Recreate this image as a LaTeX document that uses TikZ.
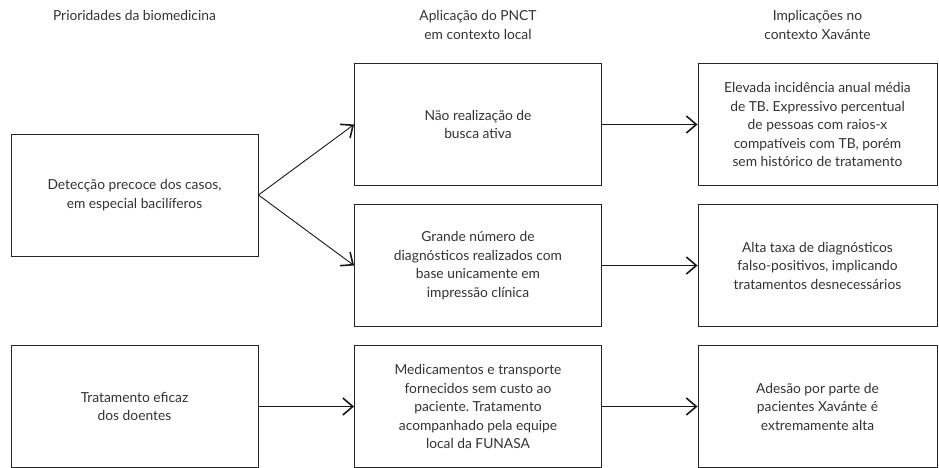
\documentclass[tikz,border=0pt]{standalone}
\usepackage{fontspec}
\setmainfont{Lato}
\usetikzlibrary{arrows.meta}
\frenchspacing

\tikzset{
  caixa/.style={draw=black!85, line width=0.9pt, align=center, inner sep=0pt,
    minimum width=247pt, minimum height=122pt, text=black!80,
    font=\fontsize{13.8}{18.5}\selectfont},
  titulo/.style={anchor=north, align=center, inner sep=0pt, text=black!80,
    font=\fontsize{13.8}{19.5}\selectfont},
  seta/.style={draw=black!90, line width=0.9pt,
    -{Straight Barb[length=10pt,width=17pt,line width=1.6pt]}}
}

\begin{document}
\begin{tikzpicture}[x=1pt,y=-1pt]
            \useasboundingbox (0,0) rectangle (939,468);
            % titulos das colunas
            \node[titulo] (t1) at (134.5,10) {Prioridades da biomedicina};
            \node[titulo] (t2) at (478,10) {Aplicação do PNCT\\em contexto local};
            \node[titulo] (t3) at (817.5,10) {Implicações no\\contexto Xavánte};
            % primeira coluna
            \node[caixa] (det) at (134.5,195) {Detecção precoce dos casos,\\em especial bacilíferos};
            \node[caixa] (trat) at (134.5,406.5) {Tratamento eficaz\\dos doentes};
            % segunda coluna
            \node[caixa] (nao) at (478,124.5) {Não realização de\\busca ativa};
            \node[caixa] (grande) at (478,265.5) {Grande número de\\diagnósticos realizados com\\base unicamente em\\impressão clínica};
            \node[caixa] (med) at (478,406.5) {Medicamentos e transporte\\fornecidos sem custo ao\\paciente. Tratamento\\acompanhado pela equipe\\local da FUNASA};
            % terceira coluna
            \node[caixa,minimum width=239pt] (elev) at (817.5,124.5) {Elevada incidência anual média\\de TB. Expressivo percentual\\de pessoas com raios-x\\compatíveis com TB, porém\\sem histórico de tratamento};
            \node[caixa,minimum width=239pt] (alta) at (817.5,265.5) {Alta taxa de diagnósticos\\falso-positivos, implicando\\tratamentos desnecessários};
            \node[caixa,minimum width=239pt] (ades) at (817.5,406.5) {Adesão por parte de\\pacientes Xavánte é\\extremamente alta};
            % setas
            \draw[seta] (det.east) -- (nao.west);
            \draw[seta] (det.east) -- (grande.west);
            \draw[seta] (trat) -- (med);
            \draw[seta] (nao) -- (elev);
            \draw[seta] (grande) -- (alta);
            \draw[seta] (med) -- (ades);
        \end{tikzpicture}
\end{document}
